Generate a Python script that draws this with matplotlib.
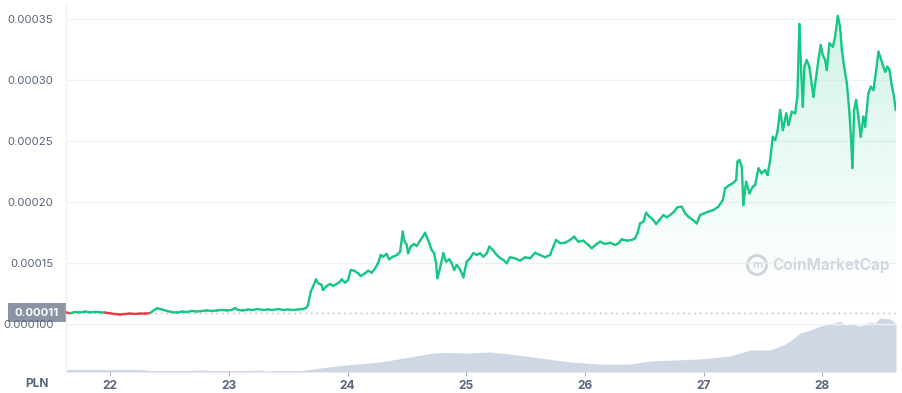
import numpy as np
import matplotlib
matplotlib.use("Agg")
import matplotlib.pyplot as plt
from matplotlib.collections import LineCollection
from matplotlib.patches import Rectangle, Ellipse

plt.rcParams['font.family'] = ['Inter', 'DejaVu Sans']

# ---------------- data ----------------
# time in day-of-month (fractional), price in units of 1e-4 PLN
t_price = [
    21.627, 21.660, 21.702, 21.745, 21.787, 21.829, 21.871, 21.913, 21.955, 21.997,
    22.040, 22.082, 22.124, 22.166, 22.208, 22.250, 22.293, 22.335, 22.360, 22.394,
    22.436, 22.478, 22.520, 22.562, 22.604, 22.646, 22.688, 22.731, 22.773, 22.815,
    22.857, 22.899, 22.941, 22.983, 23.025, 23.051, 23.076, 23.118, 23.160, 23.202,
    23.245, 23.287, 23.329, 23.371, 23.413, 23.455, 23.497, 23.539, 23.582, 23.624,
    23.649, 23.666, 23.689, 23.708, 23.734, 23.750, 23.781, 23.792, 23.824, 23.852,
    23.877, 23.908, 23.935, 23.950, 23.978, 24.003, 24.026, 24.054, 24.088, 24.110,
    24.147, 24.172, 24.203, 24.231, 24.256, 24.279, 24.298, 24.329, 24.349, 24.383,
    24.416, 24.442, 24.464, 24.475, 24.498, 24.509, 24.531, 24.559, 24.582, 24.610,
    24.633, 24.652, 24.666, 24.688, 24.708, 24.728, 24.745, 24.756, 24.778, 24.806,
    24.829, 24.857, 24.877, 24.897, 24.919, 24.947, 24.975, 25.003, 25.031, 25.059,
    25.088, 25.115, 25.143, 25.172, 25.194, 25.228, 25.256, 25.284, 25.312, 25.340,
    25.368, 25.410, 25.452, 25.495, 25.537, 25.579, 25.621, 25.663, 25.705, 25.733,
    25.756, 25.790, 25.832, 25.874, 25.908, 25.944, 25.986, 26.028, 26.057, 26.099,
    26.127, 26.169, 26.211, 26.253, 26.281, 26.310, 26.352, 26.394, 26.422, 26.441,
    26.464, 26.492, 26.514, 26.542, 26.571, 26.599, 26.627, 26.660, 26.689, 26.717,
    26.750, 26.778, 26.815, 26.843, 26.871, 26.908, 26.942, 26.969, 27.003, 27.039,
    27.081, 27.124, 27.161, 27.180, 27.216, 27.245, 27.273, 27.284, 27.301, 27.321,
    27.334, 27.357, 27.385, 27.413, 27.433, 27.461, 27.489, 27.517, 27.537, 27.560,
    27.582, 27.602, 27.621, 27.644, 27.667, 27.695, 27.714, 27.742, 27.770, 27.789,
    27.806, 27.818, 27.835, 27.848, 27.868, 27.890, 27.911, 27.924, 27.947, 27.966,
    27.986, 28.003, 28.023, 28.037, 28.059, 28.088, 28.107, 28.130, 28.149, 28.164,
    28.183, 28.206, 28.228, 28.242, 28.253, 28.267, 28.284, 28.303, 28.323, 28.345,
    28.360, 28.387, 28.408, 28.430, 28.453, 28.472, 28.492, 28.509, 28.529, 28.548,
    28.565, 28.584, 28.603, 28.618,
]
price_e4 = [
    1.096, 1.088, 1.098, 1.095, 1.102, 1.096, 1.099, 1.096, 1.094, 1.088,
    1.082, 1.078, 1.082, 1.086, 1.082, 1.086, 1.085, 1.090, 1.107, 1.129,
    1.119, 1.107, 1.098, 1.094, 1.102, 1.098, 1.107, 1.102, 1.107, 1.111,
    1.107, 1.111, 1.115, 1.111, 1.115, 1.131, 1.115, 1.111, 1.119, 1.115,
    1.123, 1.115, 1.119, 1.115, 1.123, 1.115, 1.119, 1.115, 1.119, 1.123,
    1.131, 1.156, 1.265, 1.306, 1.366, 1.336, 1.320, 1.279, 1.312, 1.328,
    1.312, 1.328, 1.347, 1.366, 1.339, 1.361, 1.443, 1.437, 1.416, 1.393,
    1.416, 1.437, 1.421, 1.457, 1.498, 1.566, 1.552, 1.574, 1.530, 1.552,
    1.566, 1.593, 1.757, 1.689, 1.648, 1.580, 1.634, 1.656, 1.639, 1.683,
    1.716, 1.748, 1.716, 1.662, 1.607, 1.580, 1.498, 1.375, 1.457, 1.580,
    1.511, 1.530, 1.498, 1.443, 1.484, 1.448, 1.383, 1.511, 1.539, 1.580,
    1.566, 1.580, 1.552, 1.580, 1.634, 1.601, 1.566, 1.541, 1.525, 1.498,
    1.547, 1.539, 1.519, 1.547, 1.539, 1.584, 1.566, 1.547, 1.566, 1.634,
    1.689, 1.662, 1.666, 1.689, 1.716, 1.675, 1.683, 1.648, 1.621, 1.656,
    1.675, 1.656, 1.666, 1.648, 1.662, 1.694, 1.683, 1.689, 1.703, 1.743,
    1.825, 1.839, 1.912, 1.880, 1.858, 1.820, 1.853, 1.893, 1.875, 1.893,
    1.921, 1.957, 1.962, 1.907, 1.880, 1.853, 1.825, 1.893, 1.907, 1.921,
    1.934, 1.962, 2.016, 2.112, 2.139, 2.153, 2.180, 2.330, 2.344, 2.289,
    1.975, 2.166, 2.071, 2.125, 2.139, 2.276, 2.235, 2.262, 2.221, 2.344,
    2.535, 2.508, 2.576, 2.754, 2.590, 2.727, 2.631, 2.740, 2.727, 2.863,
    3.459, 3.137, 2.781, 3.109, 3.164, 3.109, 2.959, 2.863, 3.027, 3.164,
    3.287, 3.205, 3.164, 3.082, 3.301, 3.273, 3.355, 3.525, 3.437, 3.246,
    3.109, 2.973, 2.727, 2.508, 2.279, 2.754, 2.836, 2.699, 2.535, 2.699,
    2.617, 2.891, 2.945, 2.918, 3.082, 3.232, 3.178, 3.123, 3.068, 3.109,
    3.082, 2.959, 2.863, 2.754,
]
ref_price_e4 = 1.093     # opening price (shown as 0.00011)

t_volume = [
    21.627, 21.913, 22.250, 22.335, 22.672, 22.756, 22.840, 23.177, 23.262, 23.304,
    23.430, 23.599, 23.649, 23.767, 23.978, 24.273, 24.526, 24.694, 24.778, 25.031,
    25.199, 25.368, 25.621, 25.874, 26.127, 26.380, 26.548, 26.969, 27.222, 27.391,
    27.560, 27.686, 27.728, 27.812, 27.897, 27.981, 28.065, 28.149, 28.191, 28.233,
    28.318, 28.402, 28.444, 28.486, 28.571, 28.613, 28.620,
]
volume = [
    2.5, 2.5, 2.5, 1.5, 1.5, 2.0, 1.5, 1.5, 2.0, 1.0,
    1.5, 1.5, 2.0, 4.0, 7.0, 10.0, 15.0, 18.5, 19.5, 19.0,
    20.0, 18.0, 14.0, 10.0, 8.0, 8.0, 11.0, 13.0, 16.0, 22.0,
    22.0, 28.0, 31.0, 39.0, 42.0, 46.0, 48.0, 51.0, 47.0, 48.0,
    46.0, 50.0, 49.0, 54.0, 53.0, 49.0, 48.0,
]

y_ticks_e4 = [1.0, 1.5, 2.0, 2.5, 3.0, 3.5]
y_tick_labels = ["0.000100", "0.00015", "0.00020", "0.00025", "0.00030", "0.00035"]
x_ticks = [22, 23, 24, 25, 26, 27, 28]
x_tick_labels = ["22", "23", "24", "25", "26", "27", "28"]
currency = "PLN"
ref_label = "0.00011"

# ---------------- style ----------------
GREEN = "#16c784"
RED = "#ea3943"
GRID = "#eff2f5"
TXT = "#58667e"
VOL = "#cfd6e4"
WM = "#d3d7de"

W, H = 903, 393
fig = plt.figure(figsize=(W / 100, H / 100), dpi=100)
fig.patch.set_facecolor("white")

L, R, T, B = 66, 896, 4, 372
ax = fig.add_axes([L / W, (H - B) / H, (R - L) / W, (B - T) / H])

t = np.array(t_price)
p = np.array(price_e4)

ax.set_xlim(21.627, 28.62)
ax.set_ylim(0.6066, 3.623)

# grid
for yv in y_ticks_e4:
    ax.axhline(yv, color=GRID, lw=1, zorder=0)

# volume on twin axis
axv = ax.twinx()
axv.set_ylim(0, 368)
axv.fill_between(t_volume, volume, 0, color=VOL, lw=0, zorder=1)
axv.set_yticks([])
for s in axv.spines.values():
    s.set_visible(False)

# gradient fill above reference
ptop = np.maximum(p, ref_price_e4)
poly = ax.fill_between(t, ptop, ref_price_e4, color="none", lw=0)
grad = np.zeros((256, 2, 4))
rgb = matplotlib.colors.to_rgb(GREEN)
grad[..., :3] = rgb
alphas = np.linspace(0.30, 0.0, 256) ** 1.3
grad[..., 3] = alphas[:, None]
im = ax.imshow(grad, extent=[t[0], t[-1], ref_price_e4, 3.55], aspect="auto",
               origin="upper", zorder=2, interpolation="bilinear")
im.set_clip_path(poly.get_paths()[0], transform=ax.transData)

# reference dotted line
ax.axhline(ref_price_e4, color="#a6b0c3", lw=1.0, ls=(0, (1, 3)), zorder=3)

# price line coloured by side of reference
pts = np.column_stack([t, p]).reshape(-1, 1, 2)
segs = np.concatenate([pts[:-1], pts[1:]], axis=1)
mid = (p[:-1] + p[1:]) / 2
cols = [GREEN if m >= ref_price_e4 else RED for m in mid]
lc = LineCollection(segs, colors=cols, linewidths=1.7, zorder=4,
                    capstyle="round", joinstyle="round")
ax.add_collection(lc)

# axes cosmetics
ax.set_yticks(y_ticks_e4)
ax.set_yticklabels(y_tick_labels)
ax.set_xticks(x_ticks)
ax.set_xticklabels(x_tick_labels)
ax.tick_params(axis="y", length=0, pad=9, labelsize=8.2, labelcolor=TXT)
ax.tick_params(axis="x", length=3, width=0.8, color="#a6b0c3", pad=3,
               labelsize=8.6, labelcolor=TXT)
for lab in ax.get_xticklabels():
    lab.set_fontweight("bold")
for k, s in ax.spines.items():
    s.set_visible(k == "left")
ax.spines["left"].set_color(GRID)
ax.spines["left"].set_linewidth(1)
ax.set_zorder(axv.get_zorder() + 1)
ax.patch.set_visible(False)

# watermark (logo + name)
fig.text(772 / W, 1 - 265 / H, "CoinMarketCap", fontsize=11,
         fontweight="bold", color=WM, ha="left", va="center")
fig.add_artist(Ellipse((757 / W, 1 - 265 / H), 19 / W, 19 / H,
                       transform=fig.transFigure, fill=False, ec=WM, lw=2.2))
fig.text(757 / W, 1 - 265.5 / H, "m", fontsize=8, fontweight="bold",
         color=WM, ha="center", va="center")

# currency label
fig.text(37 / W, 1 - 384 / H, currency, fontsize=8.6, fontweight="bold",
         color=TXT, ha="center", va="center")

# reference price box
fig.add_artist(Rectangle((8 / W, 1 - 322 / H), 58 / W, 19 / H,
                         transform=fig.transFigure, color="#8c93a3", lw=0))
fig.text(37 / W, 1 - 312.5 / H, ref_label, fontsize=8.2, fontweight="bold",
         color="white", ha="center", va="center")

fig.savefig("out.png", dpi=100, facecolor="white")
